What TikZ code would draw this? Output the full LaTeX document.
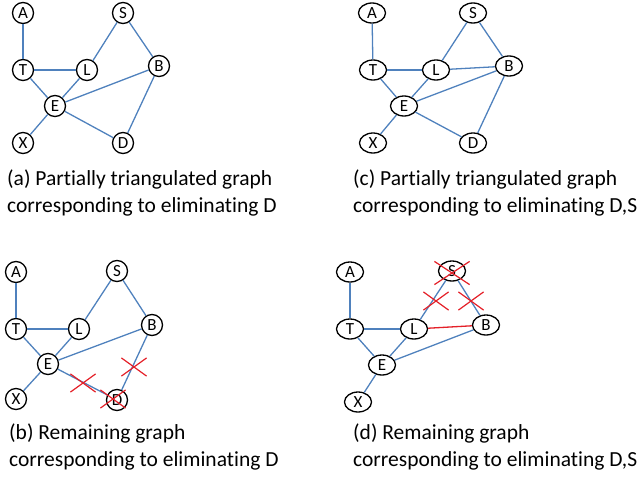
\documentclass[tikz,border=0pt]{standalone}
\usepackage{fontspec}
\setmainfont{Carlito}[Ligatures=NoCommon]
\usetikzlibrary{shapes,positioning}
\definecolor{edgeblue}{RGB}{79,129,189}
\definecolor{cutred}{RGB}{228,32,40}
\begin{document}
\begin{tikzpicture}[x=1pt,y=-1pt,main node/.style={circle,draw,line width=1.3pt,minimum size=21pt,inner sep=0pt,font=\fontsize{17}{17}\selectfont},wide node/.style={ellipse,draw,line width=1.3pt,minimum width=27pt,minimum height=20pt,inner sep=0pt,font=\fontsize{17}{17}\selectfont},link/.style={draw=edgeblue,line width=1.3pt},cut/.style={cross out,draw=cutred,line width=1.2pt,minimum width=24pt,minimum height=17pt,inner sep=0pt},caption/.style={anchor=north west,align=left,inner sep=0pt,font=\fontsize{21.5}{27}\selectfont}]
\useasboundingbox (0,0) rectangle (639,482);
% (a) D eliminated, fill-in added
\begin{scope}
\node[main node] (aA) at (23,13) {A};
\node[main node] (aS) at (123,13) {S};
\node[main node] (aT) at (23,70) {T};
\node[main node] (aL) at (87,70) {L};
\node[main node] (aB) at (159,66) {B};
\node[main node] (aE) at (55,106) {E};
\node[main node] (aX) at (23,143) {X};
\node[main node] (aD) at (123,143) {D};
\end{scope}
\begin{scope}[every path/.style={link}]
\draw (aA) -- (aT);
\draw (aT) -- (aL);
\draw (aT) -- (aE);
\draw (aL) -- (aE);
\draw (aL) -- (aS);
\draw (aS) -- (aB);
\draw (aE) -- (aB);
\draw (aE) -- (aX);
\draw (aE) -- (aD);
\draw (aB) -- (aD);
\end{scope}
\node[caption] (capa) at (7,170) {(a) Partially triangulated graph\\corresponding to eliminating D};
% (c) D,S eliminated
\begin{scope}
\node[wide node] (cA) at (372,13) {A};
\node[wide node] (cS) at (473,13) {S};
\node[wide node] (cT) at (373,70) {T};
\node[wide node] (cL) at (436,70) {L};
\node[wide node] (cB) at (509,66) {B};
\node[wide node] (cE) at (404,106) {E};
\node[wide node] (cX) at (373,143) {X};
\node[wide node] (cD) at (473,143) {D};
\end{scope}
\begin{scope}[every path/.style={link}]
\draw (cA) -- (cT);
\draw (cT) -- (cL);
\draw (cT) -- (cE);
\draw (cL) -- (cE);
\draw (cL) -- (cS);
\draw (cL) -- (cB);
\draw (cS) -- (cB);
\draw (cE) -- (cB);
\draw (cE) -- (cX);
\draw (cE) -- (cD);
\draw (cB) -- (cD);
\end{scope}
\node[caption] (capc) at (353,170) {(c) Partially triangulated graph\\corresponding to eliminating D,S};
% (b) remaining graph after D
\begin{scope}
\node[main node] (bA) at (16,272) {A};
\node[main node] (bS) at (117,271) {S};
\node[main node] (bT) at (16,329) {T};
\node[main node] (bL) at (79,329) {L};
\node[main node] (bB) at (152,325) {B};
\node[main node] (bE) at (48,364) {E};
\node[main node] (bX) at (16,399) {X};
\node[main node] (bD) at (117,400) {D};
\end{scope}
\begin{scope}[every path/.style={link}]
\draw (bA) -- (bT);
\draw (bT) -- (bL);
\draw (bT) -- (bE);
\draw (bL) -- (bE);
\draw (bL) -- (bS);
\draw (bS) -- (bB);
\draw (bE) -- (bB);
\draw (bE) -- (bX);
\draw (bE) -- (bD);
\draw (bB) -- (bD);
\end{scope}
\node[cut] (bx1) at (83,383) {};
\node[cut] (bx2) at (134,367) {};
\node[cut] (bx3) at (113,399) {};
\node[caption] (capb) at (9,424) {(b) Remaining graph\\corresponding to eliminating D};
% (d) remaining graph after D,S
\begin{scope}
\node[wide node] (dA) at (350,272) {A};
\node[wide node] (dS) at (452,271) {S};
\node[wide node] (dT) at (350,329) {T};
\node[wide node] (dL) at (414,329) {L};
\node[wide node] (dB) at (486,325) {B};
\node[wide node] (dE) at (382,365) {E};
\node[wide node] (dX) at (358,402) {X};
\end{scope}
\begin{scope}[every path/.style={link}]
\draw (dA) -- (dT);
\draw (dT) -- (dL);
\draw (dT) -- (dE);
\draw (dL) -- (dE);
\draw (dL) -- (dS);
\draw (dS) -- (dB);
\draw (dE) -- (dB);
\draw (dE) -- (dX);
\draw[draw=cutred] (dL) -- (dB);
\end{scope}
\node[cut] (dx1) at (436,301) {};
\node[cut] (dx2) at (471,301) {};
\node[cut,minimum width=34pt,minimum height=22pt] (dx3) at (452,273) {};
\node[caption] (capd) at (353,424) {(d) Remaining graph\\corresponding to eliminating D,S};
\end{tikzpicture}
\end{document}
